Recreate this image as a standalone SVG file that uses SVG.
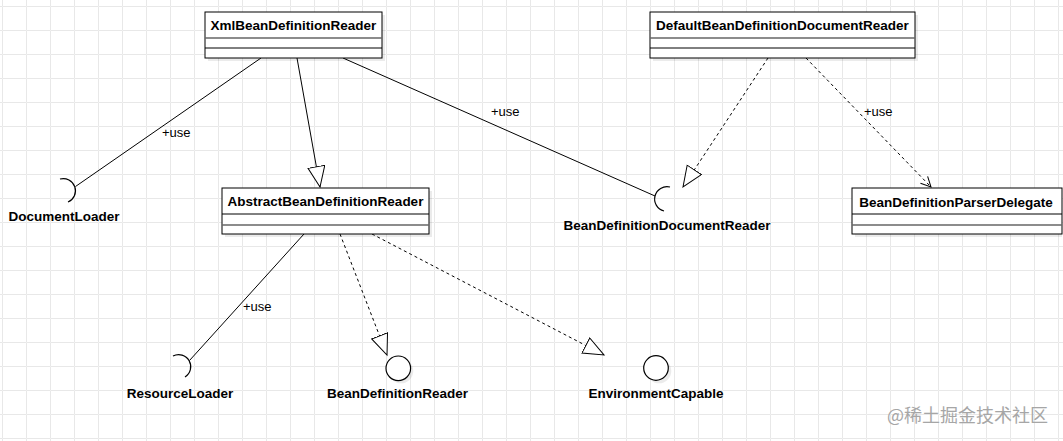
<svg xmlns="http://www.w3.org/2000/svg" width="1063" height="441" viewBox="0 0 1063 441">
<style>
.bg{fill:#ffffff}
.box{fill:#ffffff;stroke:#000000;stroke-width:1}
.shadow{fill:#000000;opacity:0.08}
.sep{stroke:#000000;stroke-width:1}
.sep2{stroke:#666666;stroke-width:1.6}
.title{font-family:"Liberation Sans",Arial,sans-serif;font-weight:bold;font-size:13.5px;fill:#000000;text-anchor:middle}
.lbl{font-family:"Liberation Sans",Arial,sans-serif;font-size:13px;fill:#000000}
.edge{fill:none;stroke:#000000;stroke-width:1}
.dash{stroke-dasharray:3 3}
.sock{fill:none;stroke:#000000;stroke-width:1.2}
.lolli{fill:#ffffff;stroke:#000000;stroke-width:1.2}
.wm{font-family:"Noto Sans CJK SC",sans-serif;font-size:18px;fill:#a6a6a6}
</style>
<defs>
<pattern id="grid" x="2" y="6" width="24" height="24" patternUnits="userSpaceOnUse">
<path d="M24 0.5 L0.5 0.5 L0.5 24" fill="none" stroke="#e8e8e8" stroke-width="1"/>
</pattern>
<marker id="tri" markerUnits="userSpaceOnUse" markerWidth="24" markerHeight="20" refX="21" refY="9" orient="auto">
<path d="M0.5,0.5 L21,9 L0.5,17.5 Z" fill="#ffffff" stroke="#000000" stroke-width="1"/>
</marker>
<marker id="open" markerUnits="userSpaceOnUse" markerWidth="14" markerHeight="14" refX="11" refY="6" orient="auto">
<path d="M1,1 L11,6 L1,11" fill="none" stroke="#000000" stroke-width="1"/>
</marker>
</defs>
<rect class="bg" x="0" y="0" width="1063" height="441"/>
<rect x="0" y="0" width="1063" height="441" fill="url(#grid)"/>

<g id="connectors">
<line class="edge" x1="297" y1="58" x2="320" y2="187" marker-end="url(#tri)"/>
<line class="edge" x1="261" y1="58" x2="75.5" y2="186.5"/>
<line class="edge" x1="343" y1="58" x2="655" y2="196"/>
<line class="edge dash" x1="768" y1="58" x2="683" y2="187" marker-end="url(#tri)"/>
<line class="edge dash" x1="806" y1="58" x2="931" y2="187" marker-end="url(#open)"/>
<line class="edge" x1="304" y1="234" x2="189.5" y2="360.5"/>
<line class="edge dash" x1="340" y1="234" x2="387" y2="355" marker-end="url(#tri)"/>
<line class="edge dash" x1="372" y1="234" x2="604" y2="355" marker-end="url(#tri)"/>
<text class="lbl" x="162" y="137">+use</text>
<text class="lbl" x="491" y="116">+use</text>
<text class="lbl" x="864" y="116">+use</text>
<text class="lbl" x="243" y="311">+use</text>
</g>

<g id="XmlBeanDefinitionReader">
<rect class="shadow" x="208" y="15" width="177" height="46"/>
<rect class="box" x="205" y="12" width="177" height="46"/>
<line class="sep2" x1="205" y1="38" x2="382" y2="38"/>
<line class="sep" x1="205" y1="48" x2="382" y2="48"/>
<text class="title" x="293.5" y="30">XmlBeanDefinitionReader</text>
</g>

<g id="DefaultBeanDefinitionDocumentReader">
<rect class="shadow" x="653" y="15" width="265" height="46"/>
<rect class="box" x="650" y="12" width="265" height="46"/>
<line class="sep2" x1="650" y1="38" x2="915" y2="38"/>
<line class="sep" x1="650" y1="48" x2="915" y2="48"/>
<text class="title" x="782.5" y="30">DefaultBeanDefinitionDocumentReader</text>
</g>

<g id="AbstractBeanDefinitionReader">
<rect class="shadow" x="225" y="191" width="207" height="46"/>
<rect class="box" x="222" y="188" width="207" height="46"/>
<line class="sep" x1="222" y1="214" x2="429" y2="214"/>
<line class="sep2" x1="222" y1="225" x2="429" y2="225"/>
<text class="title" x="325.5" y="206">AbstractBeanDefinitionReader</text>
</g>

<g id="BeanDefinitionParserDelegate">
<rect class="shadow" x="855" y="191" width="207" height="46"/>
<rect class="box" x="852" y="188" width="210" height="46"/>
<line class="sep" x1="852" y1="214" x2="1062" y2="214"/>
<line class="sep2" x1="852" y1="225" x2="1062" y2="225"/>
<text class="title" x="956" y="206.5">BeanDefinitionParserDelegate</text>
</g>

<g id="DocumentLoader">
<path class="sock" d="M60,179 A12.2,12.2 0 0 1 68,202"/>
<text class="title" x="64" y="221">DocumentLoader</text>
</g>

<g id="BeanDefinitionDocumentReader">
<path class="sock" d="M670,187 A12.35,12.35 0 0 0 664,211"/>
<text class="title" x="667" y="230">BeanDefinitionDocumentReader</text>
</g>

<g id="ResourceLoader">
<path class="sock" d="M173,356 A12.1,12.1 0 0 1 185,377"/>
<text class="title" x="180" y="398">ResourceLoader</text>
</g>

<g id="BeanDefinitionReader">
<circle class="shadow" cx="401" cy="371" r="12.3"/>
<circle class="lolli" cx="398.3" cy="368.3" r="12.3"/>
<text class="title" x="397.5" y="398">BeanDefinitionReader</text>
</g>

<g id="EnvironmentCapable">
<circle class="shadow" cx="659" cy="371" r="12.3"/>
<circle class="lolli" cx="656" cy="368" r="12.3"/>
<text class="title" x="656" y="398">EnvironmentCapable</text>
</g>

<text class="wm" x="887" y="422">@稀土掘金技术社区</text>
</svg>
